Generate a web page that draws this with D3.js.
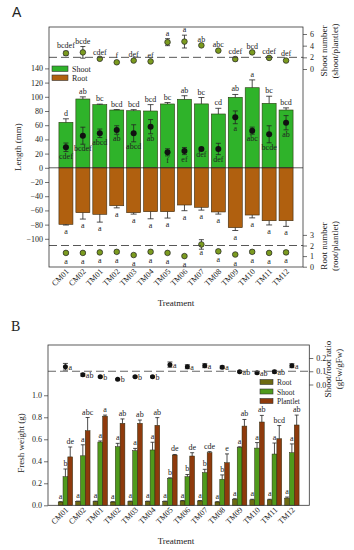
<!DOCTYPE html>
<html><head><meta charset="utf-8">
<script src="https://cdn.jsdelivr.net/npm/d3@7"></script>
<style>body{margin:0;background:#fff}svg{display:block}text{font-family:"Liberation Serif","Times New Roman",serif;fill:#222}</style>
</head><body>
<svg id="c" width="354" height="550"></svg>
<script>
// ---------- DATA ----------
const categories = ["CM01","CM02","TM01","TM02","TM03","TM04","TM05","TM06","TM07","TM08","TM09","TM10","TM11","TM12"];
// Panel A: shoot length (mm)
const shootLength = [64, 96.9, 88.9, 81.4, 80.4, 80, 89.9, 96.5, 90, 75.8, 99.3, 112.8, 90.8, 81.4];
const shootLengthErr = [5, 3, 0.8, 0.6, 1.5, 9, 2, 5, 9, 8, 4, 11, 10, 3];
const shootLengthLetters = ["d","ab","bc","bcd","bcd","bcd","bc","ab","bc","cd","ab","a","bc","bcd"];
// Panel A: dots (mm)
const dotLength = [28.9, 45.2, 48.6, 53.2, 48.6, 57.9, 21.8, 23.6, 26.5, 26.5, 71.1, 52.3, 47.2, 63.5];
const dotLengthErr = [6, 12, 6, 6, 12, 10, 5, 5, 1, 8, 9, 5, 12, 10];
const dotLengthLetters = ["cdef","bcdef","abcd","ab","abcd","ab","f","ef","def","def","a","abc","bcde","ab"];
// Panel A: root length (mm, drawn downward)
const rootLength = [79.6, 63.2, 65.5, 53.4, 63.2, 61.8, 61.8, 52.4, 55.6, 62.2, 84.3, 66.5, 74.5, 74.5];
const rootLengthErr = [1, 9, 11, 3, 2, 10, 9, 8, 4, 3, 4, 4, 6, 8];
const rootLengthLetters = ["a","a","a","a","a","a","a","a","a","a","a","a","a","a"];
// Panel A: shoot number (shoot/plantlet)
const shootNumber = [2.7, 2.85, 1.75, 1.15, 1.45, 1.3, 4.6, 4.7, 4.05, 3.15, 1.7, 2.85, 1.9, 1.45];
const shootNumberErr = [0.35, 1.0, 0.15, 0.15, 0.15, 0.15, 0.6, 1.1, 0.15, 0.15, 0.3, 0.15, 0.15, 0.2];
const shootNumberLetters = ["bcdef","bcde","cdef","f","def","ef","a","a","ab","abc","cdef","bcd","cdef","def"];
// Panel A: root number (root/plantlet)
const rootNumber = [1.3, 1.3, 1.35, 1.4, 1.1, 1.4, 1.3, 1.0, 2.1, 1.45, 1.15, 1.4, 1.3, 1.35];
const rootNumberErr = [0.1, 0.1, 0.1, 0.15, 0.1, 0.15, 0.1, 0.1, 0.45, 0.15, 0.1, 0.15, 0.1, 0.15];
const rootNumberLetters = ["a","a","a","a","a","a","a","a","a","a","a","a","a","a"];
// Panel B: fresh weight (g)
const rootFW = [0.03, 0.035, 0.035, 0.03, 0.035, 0.035, 0.035, 0.04, 0.04, 0.03, 0.055, 0.05, 0.05, 0.065];
const rootFWErr = [0.003, 0.003, 0.003, 0.003, 0.003, 0.003, 0.003, 0.003, 0.003, 0.003, 0.005, 0.005, 0.005, 0.01];
const rootFWLetters = ["a","a","a","a","a","a","a","a","a","a","a","a","a","a"];
const shootFW = [0.26, 0.45, 0.575, 0.533, 0.497, 0.503, 0.245, 0.26, 0.297, 0.236, 0.527, 0.52, 0.466, 0.478];
const shootFWErr = [0.07, 0.1, 0.01, 0.03, 0.02, 0.07, 0.005, 0.02, 0.03, 0.04, 0.005, 0.05, 0.1, 0.08];
const shootFWLetters = ["b","a","a","a","a","a","b","b","b","b","a","a","a","a"];
const plantletFW = [0.44, 0.678, 0.81, 0.745, 0.745, 0.727, 0.457, 0.448, 0.478, 0.387, 0.72, 0.757, 0.605, 0.73];
const plantletFWErr = [0.09, 0.12, 0.01, 0.04, 0.03, 0.07, 0.005, 0.03, 0.01, 0.08, 0.06, 0.06, 0.12, 0.09];
const plantletFWLetters = ["de","abc","a","ab","ab","ab","de","de","cde","e","ab","ab","bcd","ab"];
// Panel B: shoot/root ratio (gFw/gFw)
const ratio = [0.134, 0.074, 0.059, 0.039, 0.059, 0.059, 0.15, 0.134, 0.142, 0.13, 0.097, 0.089, 0.097, 0.142];
const ratioErr = [0.025, 0.01, 0.005, 0.005, 0.005, 0.005, 0.02, 0.015, 0.015, 0.01, 0.005, 0.008, 0.01, 0.015];
const ratioLetters = ["a","ab","b","b","b","b","a","a","a","a","ab","ab","ab","a"];
const lengthTicks = [140,120,100,80,60,40,20,0,-20,-40,-60,-80,-100];
const shootNumTicks = [0,2,4,6];
const rootNumTicks = [0,1,2,3];
const fwTicks = [0,0.2,0.4,0.6,0.8,1.0];
const ratioTicks = [0,0.1,0.2];

// ---------- STYLE ----------
const C = {shoot:"#2fb32a", root:"#b0600f", dot:"#111", num:"#7b9b1f",
           fwRoot:"#6d6a12", fwShoot:"#4f9a1c", fwPlant:"#8e3a0c", axis:"#333"};
const svg = d3.select("#c");
const FS = 8;

function errBar(g, x, y1, y2, cap, col){
  g.append("line").attr("x1",x).attr("x2",x).attr("y1",y1).attr("y2",y2).attr("stroke",col||"#222").attr("stroke-width",0.8);
  g.append("line").attr("x1",x-cap).attr("x2",x+cap).attr("y1",y2).attr("y2",y2).attr("stroke",col||"#222").attr("stroke-width",0.8);
}
function label(g, x, y, t, anchor, size){
  g.append("text").attr("x",x).attr("y",y).attr("text-anchor",anchor||"middle").attr("font-size",size||FS).attr("fill","#222").text(t);
}
function styleAxis(sel){
  sel.select(".domain").remove();
  sel.selectAll(".tick line").attr("stroke",C.axis).attr("stroke-width",0.7);
  sel.selectAll(".tick text").attr("font-size",FS).attr("font-family","Liberation Serif").attr("fill","#222");
}

// ---------- PANEL A ----------
const A = {l:49, r:303, t:27, b:267};
const xA = d3.scalePoint().domain(categories).range([A.l, A.r]).padding(1);
const yLen = d3.scaleLinear().domain([-139.7, 198.3]).range([A.b, A.t]);
const ySN = d3.scaleLinear().domain([0,6]).range([69,34]);
const yRN = d3.scaleLinear().domain([0,3]).range([266.7,234.9]);
const bwA = 14;
const gA = svg.append("g");

svg.append("text").attr("x",12).attr("y",17).attr("font-size",14).style("font-family","Liberation Sans, Arial, sans-serif").text("A");

// bars
gA.selectAll("rect.s").data(categories).join("rect")
  .attr("x",d=>xA(d)-bwA/2).attr("width",bwA)
  .attr("y",(d,i)=>yLen(shootLength[i])).attr("height",(d,i)=>yLen(0)-yLen(shootLength[i]))
  .attr("fill",C.shoot).attr("stroke","#2a3a10").attr("stroke-width",0.6);
gA.selectAll("rect.r").data(categories).join("rect")
  .attr("x",d=>xA(d)-bwA/2).attr("width",bwA)
  .attr("y",yLen(0)).attr("height",(d,i)=>yLen(-rootLength[i])-yLen(0))
  .attr("fill",C.root).attr("stroke","#3a2a10").attr("stroke-width",0.6);

categories.forEach((c,i)=>{
  const x = xA(c);
  errBar(gA, x, yLen(shootLength[i]), yLen(shootLength[i]+shootLengthErr[i]), 3);
  label(gA, x, yLen(shootLength[i]+shootLengthErr[i])-3, shootLengthLetters[i]);
  errBar(gA, x, yLen(-rootLength[i]), yLen(-rootLength[i]-rootLengthErr[i]), 3);
  label(gA, x, yLen(-rootLength[i]-rootLengthErr[i])+9, rootLengthLetters[i]);
  errBar(gA, x, yLen(dotLength[i]), yLen(dotLength[i]+dotLengthErr[i]), 2.5);
  errBar(gA, x, yLen(dotLength[i]), yLen(dotLength[i]-dotLengthErr[i]), 2.5);
  gA.append("circle").attr("cx",x).attr("cy",yLen(dotLength[i])).attr("r",3).attr("fill",C.dot);
  label(gA, x, yLen(dotLength[i]-dotLengthErr[i])+7, dotLengthLetters[i]);
  errBar(gA, x, ySN(shootNumber[i]), ySN(shootNumber[i]+shootNumberErr[i]), 2.5);
  errBar(gA, x, ySN(shootNumber[i]), ySN(shootNumber[i]-shootNumberErr[i]), 2.5);
  gA.append("circle").attr("cx",x).attr("cy",ySN(shootNumber[i])).attr("r",2.8).attr("fill",C.num).attr("stroke","#222").attr("stroke-width",0.7);
  label(gA, x, ySN(shootNumber[i]+shootNumberErr[i])-3, shootNumberLetters[i]);
  errBar(gA, x, yRN(rootNumber[i]), yRN(rootNumber[i]+rootNumberErr[i]), 2.5);
  errBar(gA, x, yRN(rootNumber[i]), yRN(rootNumber[i]-rootNumberErr[i]), 2.5);
  gA.append("circle").attr("cx",x).attr("cy",yRN(rootNumber[i])).attr("r",2.8).attr("fill",C.num).attr("stroke","#222").attr("stroke-width",0.7);
  label(gA, x, yRN(rootNumber[i])+11, rootNumberLetters[i]);
});

gA.append("line").attr("x1",A.l).attr("x2",A.r).attr("y1",yLen(0)).attr("y2",yLen(0)).attr("stroke","#333").attr("stroke-width",0.8);
gA.append("line").attr("x1",A.l).attr("x2",A.r).attr("y1",ySN(2)).attr("y2",ySN(2)).attr("stroke","#444").attr("stroke-width",0.9).attr("stroke-dasharray","8,4");
gA.append("line").attr("x1",A.l).attr("x2",A.r).attr("y1",yRN(2)).attr("y2",yRN(2)).attr("stroke","#444").attr("stroke-width",0.9).attr("stroke-dasharray","8,4");
gA.append("rect").attr("x",A.l).attr("y",A.t).attr("width",A.r-A.l).attr("height",A.b-A.t).attr("fill","none").attr("stroke","#333").attr("stroke-width",0.8);

styleAxis(gA.append("g").attr("transform",`translate(${A.l},0)`).call(d3.axisLeft(yLen).tickValues(lengthTicks).tickFormat(d3.format("d")).tickSize(4).tickPadding(2)));
styleAxis(gA.append("g").attr("transform",`translate(${A.r},0)`).call(d3.axisRight(ySN).tickValues(shootNumTicks).tickFormat(d3.format("d")).tickSize(4).tickPadding(3)));
styleAxis(gA.append("g").attr("transform",`translate(${A.r},0)`).call(d3.axisRight(yRN).tickValues(rootNumTicks).tickFormat(d3.format("d")).tickSize(4).tickPadding(3)));
const xAxA = gA.append("g").attr("transform",`translate(0,${A.b})`).call(d3.axisBottom(xA).tickSize(0).tickPadding(0));
xAxA.select(".domain").remove();
xAxA.selectAll(".tick text").attr("font-size",FS).attr("fill","#222").attr("text-anchor","end").attr("dy",0).attr("transform","translate(3,5) rotate(-45)");

[["Shoot",C.shoot,70],["Root",C.root,79]].forEach(([t,c,y])=>{
  gA.append("rect").attr("x",52).attr("y",y-4).attr("width",16).attr("height",5.5).attr("fill",c).attr("stroke","#333").attr("stroke-width",0.6);
  label(gA, 72, y+1.5, t, "start", 8);
});
label(gA, 176, 306, "Treatment", "middle", 9);
gA.append("text").attr("transform","translate(21,147) rotate(-90)").attr("text-anchor","middle").attr("font-size",9).text("Length (mm)");
gA.append("text").attr("transform","translate(327,51) rotate(-90)").attr("text-anchor","middle").attr("font-size",9).text("Shoot number");
gA.append("text").attr("transform","translate(338,51) rotate(-90)").attr("text-anchor","middle").attr("font-size",9).text("(shoot/plantlet)");
gA.append("text").attr("transform","translate(327,246) rotate(-90)").attr("text-anchor","middle").attr("font-size",9).text("Root number");
gA.append("text").attr("transform","translate(338,246) rotate(-90)").attr("text-anchor","middle").attr("font-size",9).text("(root/plantlet)");

// ---------- PANEL B ----------
const B = {l:48, r:309.3, t:345, b:505.3};
const xB = d3.scalePoint().domain(categories).range([B.l, B.r]).padding(1);
const xSub = d3.scaleBand().domain(["root","shoot","plantlet"]).range([-7.2,7.2]);
const yFW = d3.scaleLinear().domain([0,1.457]).range([B.b, B.t]);
const yRat = d3.scaleLinear().domain([0,0.2]).range([384.5,358]);
const gB = svg.append("g");
svg.append("text").attr("x",11).attr("y",331).attr("font-size",14).text("B");

const fwSeries = [
  {key:"root", vals:rootFW, err:rootFWErr, let:rootFWLetters, col:C.fwRoot},
  {key:"shoot", vals:shootFW, err:shootFWErr, let:shootFWLetters, col:C.fwShoot},
  {key:"plantlet", vals:plantletFW, err:plantletFWErr, let:plantletFWLetters, col:C.fwPlant}
];
fwSeries.forEach(s=>{
  gB.selectAll(null).data(categories).join("rect")
    .attr("x",d=>xB(d)+xSub(s.key)).attr("width",xSub.bandwidth())
    .attr("y",(d,i)=>yFW(s.vals[i])).attr("height",(d,i)=>yFW(0)-yFW(s.vals[i]))
    .attr("fill",s.col).attr("stroke","#2a2a10").attr("stroke-width",0.5);
  categories.forEach((c,i)=>{
    const x = xB(c)+xSub(s.key)+xSub.bandwidth()/2;
    errBar(gB, x, yFW(s.vals[i]), yFW(s.vals[i]+s.err[i]), 2);
    label(gB, x, yFW(s.vals[i]+s.err[i])-3, s.let[i]);
  });
});
categories.forEach((c,i)=>{
  const x = xB(c);
  errBar(gB, x, yRat(ratio[i]), yRat(ratio[i]+ratioErr[i]), 2.5);
  errBar(gB, x, yRat(ratio[i]), yRat(ratio[i]-ratioErr[i]), 2.5);
  gB.append("circle").attr("cx",x).attr("cy",yRat(ratio[i])).attr("r",2.5).attr("fill","#111");
  label(gB, x+3, yRat(ratio[i])+3, ratioLetters[i], "start");
});
gB.append("line").attr("x1",B.l).attr("x2",B.r).attr("y1",yRat(0.1)).attr("y2",yRat(0.1)).attr("stroke","#555").attr("stroke-width",0.9).attr("stroke-dasharray","8,4");
gB.append("rect").attr("x",B.l).attr("y",B.t).attr("width",B.r-B.l).attr("height",B.b-B.t).attr("fill","none").attr("stroke","#333").attr("stroke-width",0.8);

styleAxis(gB.append("g").attr("transform",`translate(${B.l},0)`).call(d3.axisLeft(yFW).tickValues(fwTicks).tickFormat(d3.format(".1f")).tickSize(4).tickPadding(2)));
styleAxis(gB.append("g").attr("transform",`translate(${B.r},0)`).call(d3.axisRight(yRat).tickValues(ratioTicks).tickFormat(d3.format(".1f")).tickSize(4).tickPadding(3)));
const xAxB = gB.append("g").attr("transform",`translate(0,${B.b})`).call(d3.axisBottom(xB).tickSize(0).tickPadding(0));
xAxB.select(".domain").remove();
xAxB.selectAll(".tick text").attr("font-size",FS).attr("fill","#222").attr("text-anchor","end").attr("dy",0).attr("transform","translate(3,5) rotate(-45)");

[["Root",C.fwRoot,383.5],["Shoot",C.fwShoot,393],["Plantlet",C.fwPlant,402.5]].forEach(([t,c,y])=>{
  gB.append("rect").attr("x",260).attr("y",y-4).attr("width",13).attr("height",5).attr("fill",c).attr("stroke","#333").attr("stroke-width",0.6);
  label(gB, 277, y+1.5, t, "start", 7.5);
});
label(gB, 176, 544, "Treatment", "middle", 9);
gB.append("text").attr("transform","translate(24,443) rotate(-90)").attr("text-anchor","middle").attr("font-size",9).text("Fresh weight (g)");
gB.append("text").attr("transform","translate(331,369) rotate(-90)").attr("text-anchor","middle").attr("font-size",9).text("Shoot/root ratio");
gB.append("text").attr("transform","translate(342,369) rotate(-90)").attr("text-anchor","middle").attr("font-size",9).text("(gFw/gFw)");
</script>
</body></html>
